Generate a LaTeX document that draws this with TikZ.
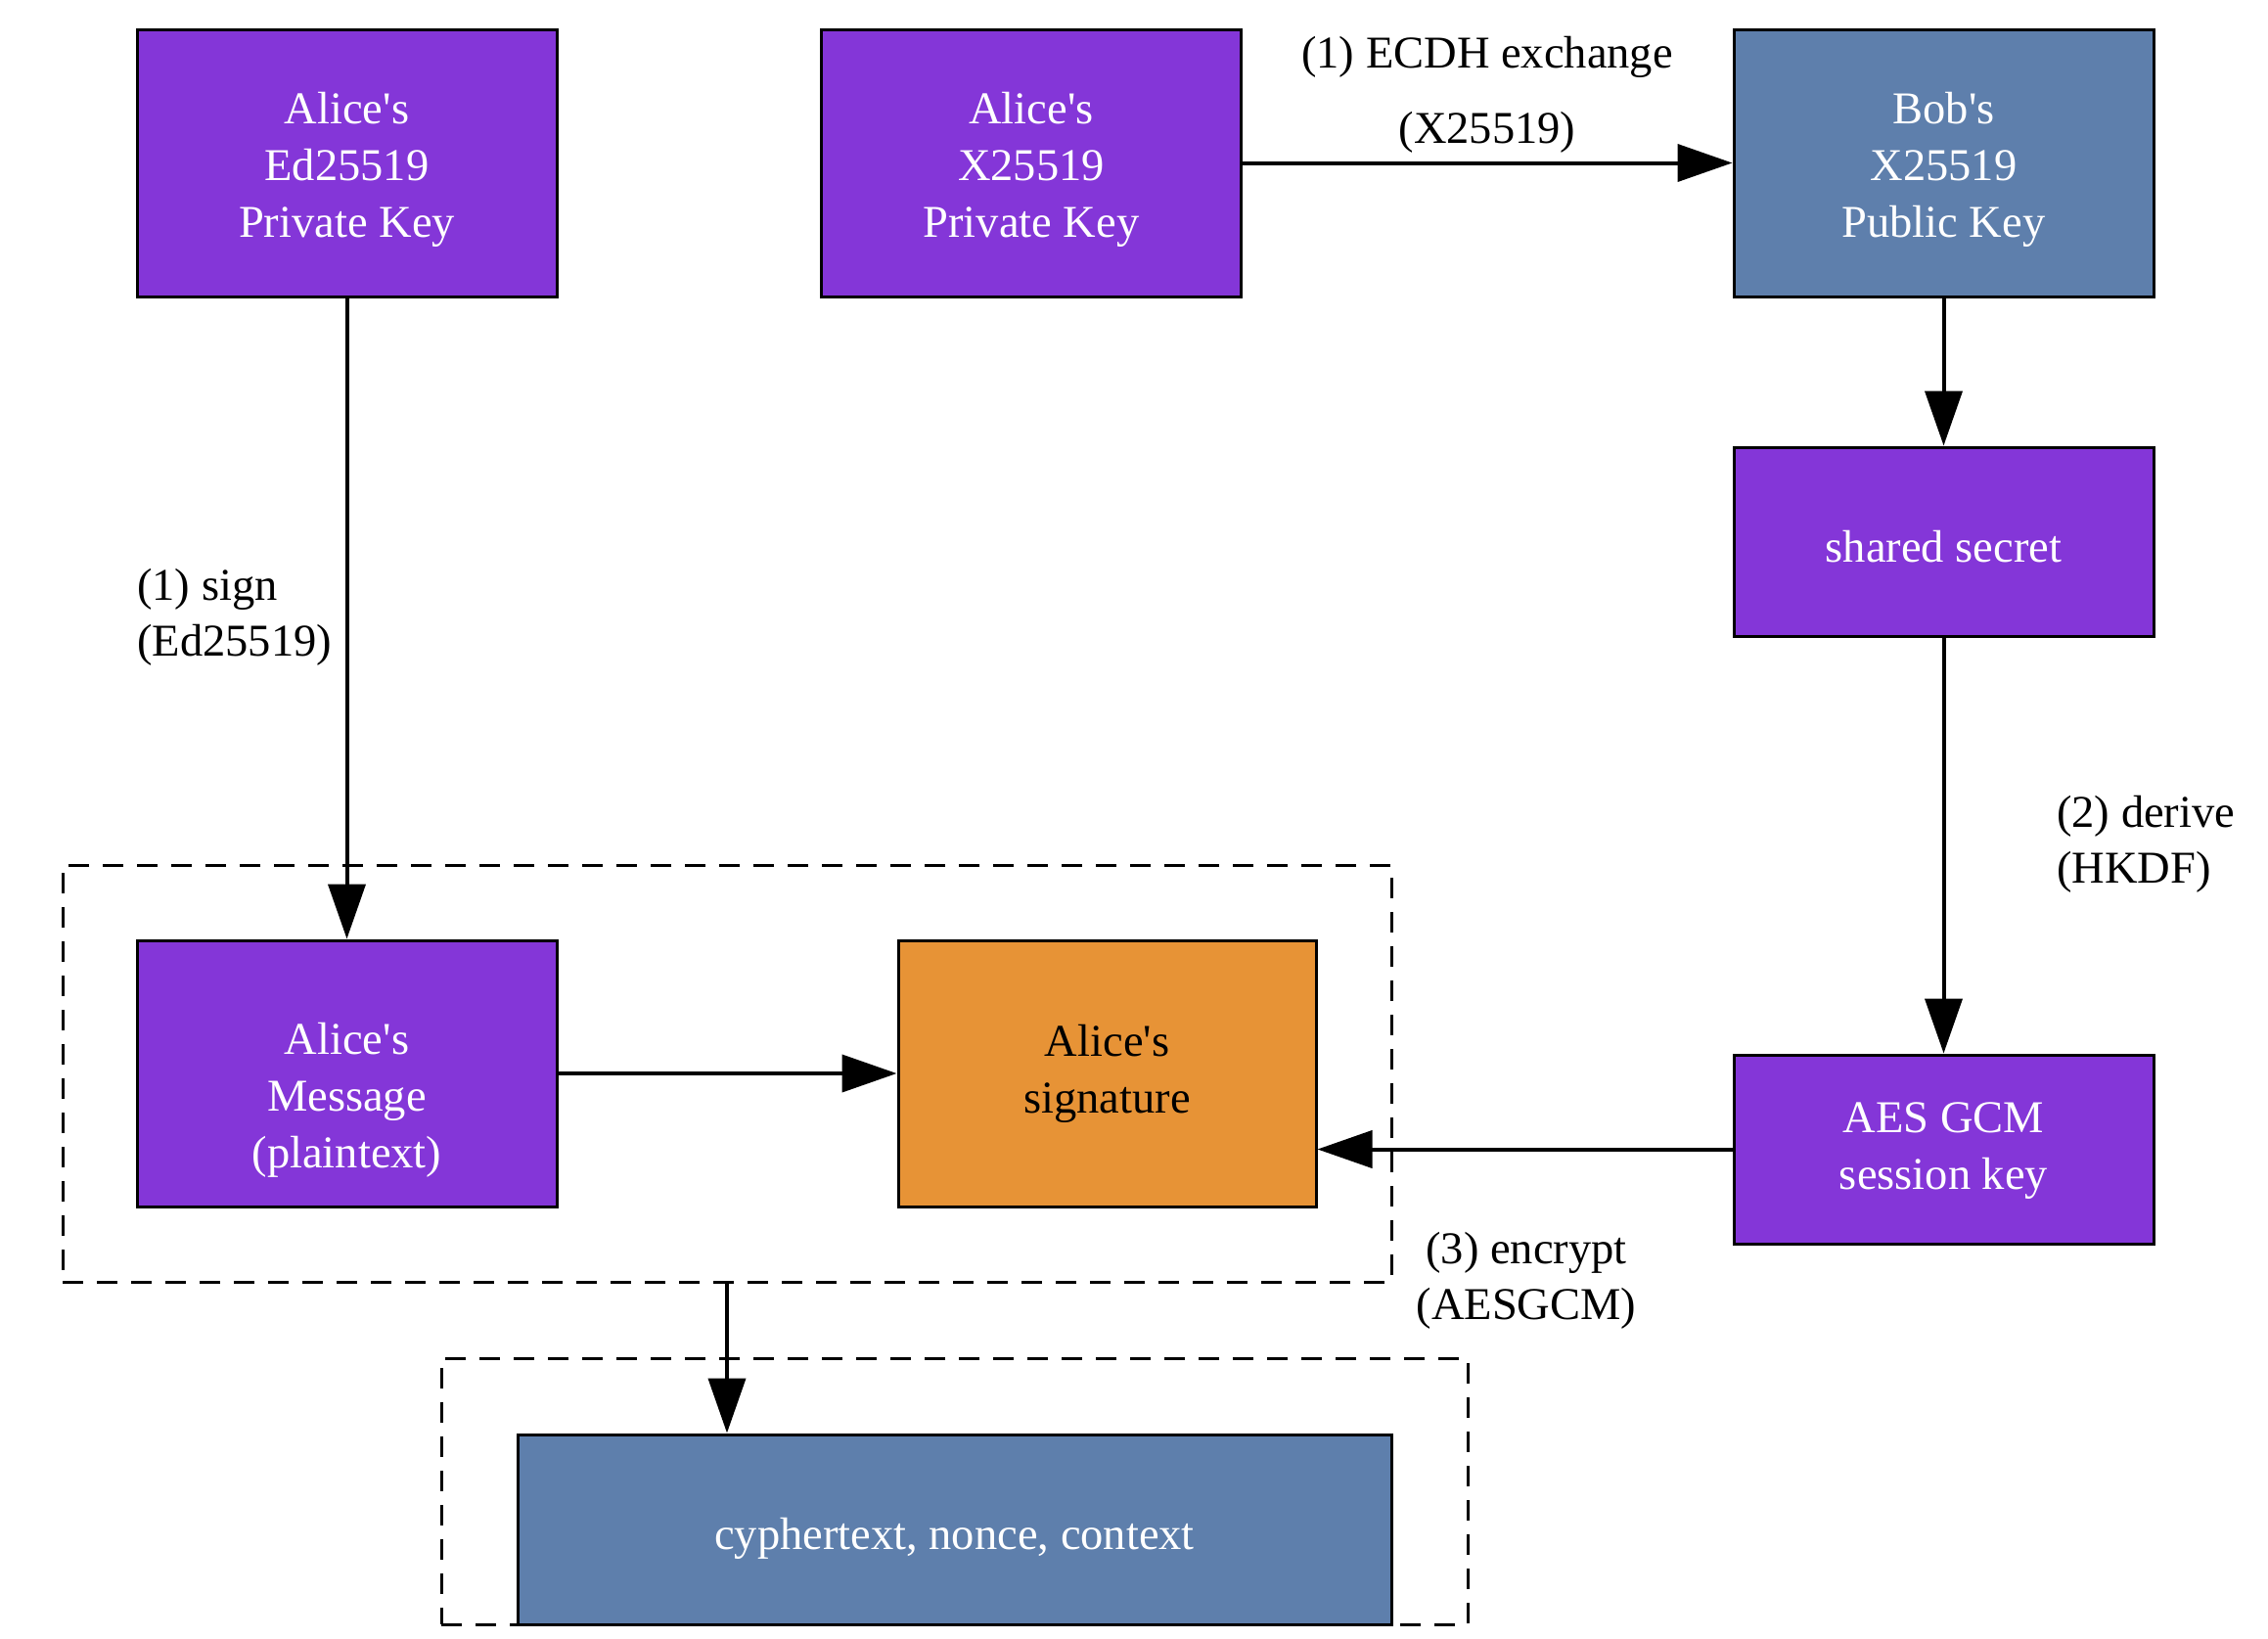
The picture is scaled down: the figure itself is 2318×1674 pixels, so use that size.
\documentclass[tikz,border=0pt]{standalone}
\usepackage{fontspec}
\setmainfont{Liberation Serif}[Ligatures=TeXOff]
\usetikzlibrary{arrows.meta}
\definecolor{vio}{HTML}{8436D8}
\definecolor{steel}{HTML}{5E7FAC}
\definecolor{orng}{HTML}{E79336}
\newcommand\liftdown[1]{\rule{0pt}{#1}}
\begin{document}
\begin{tikzpicture}[x=1pt,y=-1pt,
  box/.style={draw=black, line width=3pt, minimum width=429pt, minimum height=273pt,
    inner sep=0pt, align=center, text=white, font=\fontsize{46.5}{58}\selectfont},
  lowbox/.style={box, minimum height=193pt},
  lbl/.style={inner sep=0pt, font=\fontsize{46.5}{57}\selectfont},
  conn/.style={line width=4pt, -{Triangle[length=56pt,width=38pt]}},
  clusterbox/.style={draw=black, line width=3pt, dash pattern=on 21pt off 14pt, inner sep=0pt}
]
\useasboundingbox (0,0) rectangle (2318,1674);

% clusters
\node[clusterbox, minimum width=1358pt, minimum height=426pt] (cl1) at (743,1097) {};
\node[clusterbox, minimum width=1049pt, minimum height=272pt] (cl2) at (975.5,1524) {};

% nodes
\node[box, fill=vio] (edpriv) at (354.5,166.5) {\liftdown{46pt}Alice's\\Ed25519\\Private Key};
\node[box, fill=vio] (xpriv) at (1054,166.5) {\liftdown{46pt}Alice's\\X25519\\Private Key};
\node[box, fill=steel] (bobpub) at (1986.5,166.5) {\liftdown{46pt}Bob's\\X25519\\Public Key};
\node[lowbox, fill=vio] (shared) at (1986.5,553.5) {\liftdown{43pt}shared secret};
\node[lowbox, fill=vio] (aes) at (1986.5,1174.5) {\liftdown{34pt}AES GCM\\session key};
\node[box, fill=vio, minimum height=272pt] (msg) at (354.5,1097) {\liftdown{86pt}Alice's\\Message\\(plaintext)};
\node[box, fill=orng, text=black, minimum width=427pt, minimum height=272pt] (sig) at (1131.5,1097) {Alice's\\signature};
\node[box, fill=steel, minimum width=893pt, minimum height=194pt] (cipher) at (975.5,1563) {\liftdown{50pt}cyphertext, nonce, context};

% labels
\node[lbl, align=center, font=\fontsize{46.5}{77}\selectfont] (lecdh) at (1520,97) {(1) ECDH exchange\\(X25519)};
\node[lbl, align=left, anchor=west] (lsign) at (140,631) {(1) sign\\(Ed25519)};
\node[lbl, align=left, anchor=west] (lderive) at (2102,863) {(2) derive\\(HKDF)};
\node[lbl, align=center] (lenc) at (1560,1309) {(3) encrypt\\(AESGCM)};

% connectors
\draw[conn] (edpriv.south) -- (msg.north);
\draw[conn] (xpriv.east) -- (bobpub.west);
\draw[conn] (bobpub.south) -- (shared.north);
\draw[conn] (shared.south) -- (aes.north);
\draw[conn] (msg.east) -- (sig.west);
\draw[conn] (aes.west) -- (aes.west -| sig.east);
\draw[conn] (cl1.south) -- (cl1.south |- cipher.north);
\end{tikzpicture}
\end{document}
